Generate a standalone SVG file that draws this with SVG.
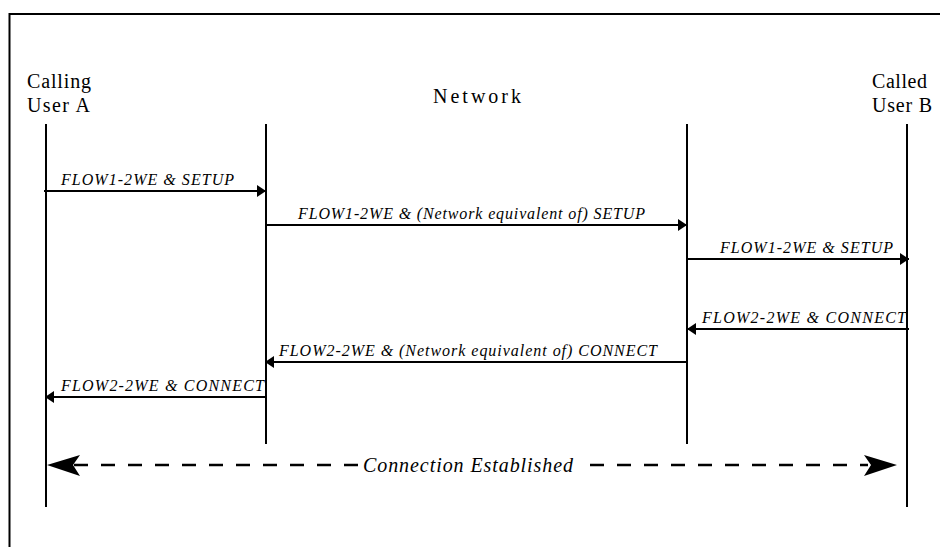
<svg xmlns="http://www.w3.org/2000/svg" width="940" height="547" viewBox="0 0 940 547">
<style>
.ll{stroke:#000;stroke-width:2;fill:none}
.msg{stroke:#000;stroke-width:2;fill:none;marker-end:url(#ah)}
text{font-family:'Liberation Serif','Times New Roman',Times,'DejaVu Serif',serif;fill:#000}
.hd{font-size:20px}
.lb{font-style:italic;font-size:16px}
.ce{font-style:italic;font-size:20px}
.dash{stroke:#000;stroke-width:2.5;stroke-dasharray:14 13;fill:none}
</style>
<defs>
<marker id="ah" markerUnits="userSpaceOnUse" markerWidth="10" markerHeight="12" refX="9" refY="6" orient="auto">
<path d="M0,0 L9,6 L0,12 Z" fill="#000"/>
</marker>
</defs>
<rect x="0" y="0" width="940" height="547" fill="#fff"/>
<rect id="frame" x="9.5" y="14" width="1000" height="600" fill="none" stroke="#000" stroke-width="2"/>
<g id="userA">
<text class="hd" x="27" y="88" textLength="64" font-family="Liberation Serif, serif">Calling</text>
<text class="hd" x="27" y="112" textLength="63" font-family="Liberation Serif, serif">User A</text>
<line class="ll" x1="46" y1="124" x2="46" y2="507"/>
</g>
<g id="network">
<text class="hd" x="433" y="103" textLength="88" font-family="Liberation Serif, serif">Network</text>
<line class="ll" x1="266" y1="124" x2="266" y2="444"/>
<line class="ll" x1="687" y1="124" x2="687" y2="444"/>
</g>
<g id="userB">
<text class="hd" x="872" y="88" textLength="55" font-family="Liberation Serif, serif">Called</text>
<text class="hd" x="872" y="112" textLength="60" font-family="Liberation Serif, serif">User B</text>
<line class="ll" x1="907" y1="124" x2="907" y2="507"/>
</g>
<g id="connectors">
<line class="msg" x1="44" y1="191" x2="266" y2="191"/>
<text class="lb" x="61" y="185" textLength="173">FLOW1-2WE &amp; SETUP</text>
<line class="msg" x1="266" y1="225" x2="687" y2="225"/>
<text class="lb" x="298" y="219" textLength="347">FLOW1-2WE &amp; (Network equivalent of) SETUP</text>
<line class="msg" x1="687" y1="259" x2="909" y2="259"/>
<text class="lb" x="720" y="253" textLength="173">FLOW1-2WE &amp; SETUP</text>
<line class="msg" x1="909" y1="329" x2="687" y2="329"/>
<text class="lb" x="702" y="323" textLength="204">FLOW2-2WE &amp; CONNECT</text>
<line class="msg" x1="687" y1="362" x2="265" y2="362"/>
<text class="lb" x="279" y="356" textLength="378">FLOW2-2WE &amp; (Network equivalent of) CONNECT</text>
<line class="msg" x1="266" y1="397" x2="45" y2="397"/>
<text class="lb" x="61" y="391" textLength="203">FLOW2-2WE &amp; CONNECT</text>
<line class="dash" x1="74" y1="465" x2="360" y2="465"/>
<line class="dash" x1="590" y1="465" x2="868" y2="465"/>
<path d="M47,465 L80,455 L73,465 L80,476 Z" fill="#000"/>
<path d="M897,465 L864,455 L871,465 L864,476 Z" fill="#000"/>
<text class="ce" x="363" y="472" textLength="210">Connection Established</text>
</g>
</svg>
